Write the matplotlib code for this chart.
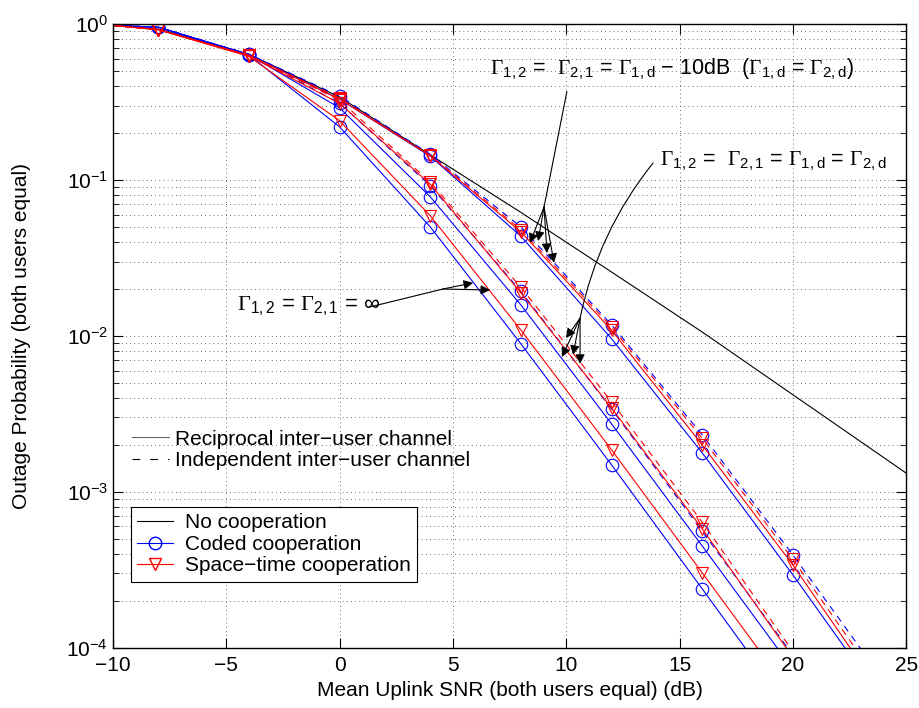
import numpy as np
import matplotlib
matplotlib.use("Agg")
import matplotlib.pyplot as plt
from matplotlib.lines import Line2D
from matplotlib.ticker import LogLocator, NullFormatter

plt.rcParams["font.family"] = ["Liberation Sans", "DejaVu Sans"]
plt.rcParams["mathtext.fontset"] = "custom"
plt.rcParams["mathtext.rm"] = "Liberation Sans"
plt.rcParams["mathtext.it"] = "Liberation Sans:italic"
plt.rcParams["mathtext.sf"] = "Liberation Serif"

# ---------------------------------------------------------
# Data
# ---------------------------------------------------------
snr = [-10, -8, -4, 0, 4, 8, 12, 16, 20, 24]
snr_nc = [-10, -8, -4, 0, 4, 8, 12, 16, 20, 25]

no_coop = [0.98, 0.93, 0.64, 0.34, 0.145, 0.062, 0.0257, 0.0106, 0.0042, 0.00132]

# Gamma_12 = Gamma_21 = inf
cc_inf = [0.98, 0.955, 0.633, 0.219, 0.050, 0.0089, 0.00149, 2.39e-4, 3.8e-5, 6e-6]
st_inf = [0.98, 0.92, 0.62, 0.240, 0.059, 0.0109, 0.00186, 3.03e-4, 4.9e-5, 8e-6]

# Gamma_12 = Gamma_21 = Gamma_1d = Gamma_2d
cc_eq_rec = [0.98, 0.955, 0.635, 0.29, 0.078, 0.0158, 0.00273, 4.5e-4, 7.3e-5, 1.2e-5]
cc_eq_ind = [0.98, 0.955, 0.638, 0.31, 0.092, 0.0193, 0.0034, 5.6e-4, 9.0e-5, 1.5e-5]
st_eq_rec = [0.98, 0.92, 0.625, 0.31, 0.094, 0.0189, 0.00345, 5.8e-4, 8.7e-5, 1.4e-5]
st_eq_ind = [0.98, 0.92, 0.627, 0.325, 0.097, 0.0205, 0.00378, 6.4e-4, 9.5e-5, 1.6e-5]

# Gamma_12 = Gamma_21 = Gamma_1d - 10dB
cc_10_rec = [0.98, 0.955, 0.64, 0.33, 0.142, 0.0436, 0.0096, 0.00178, 2.94e-4, 4.5e-5]
cc_10_ind = [0.98, 0.955, 0.64, 0.345, 0.146, 0.050, 0.0118, 0.00232, 3.95e-4, 6.2e-5]
st_10_rec = [0.98, 0.92, 0.63, 0.33, 0.143, 0.0465, 0.0109, 0.0020, 3.4e-4, 4.9e-5]
st_10_ind = [0.98, 0.92, 0.63, 0.335, 0.144, 0.048, 0.0114, 0.00221, 3.7e-4, 5.5e-5]

# ---------------------------------------------------------
# Figure
# ---------------------------------------------------------
fig = plt.figure(figsize=(9.19, 7.08), dpi=100)
ax = fig.add_axes([0.123, 0.085, 0.863, 0.881])

dash = (0, (6, 5))
ymin = 1e-4


def curve(vals, color, marker, ls="-"):
    # markers only on the sampled points (-8 ... 20 dB) that lie inside the axes
    idx = [i for i in range(1, 9) if vals[i] >= ymin]
    ax.plot(snr, vals, color=color, marker=marker, linestyle=ls, lw=0.8,
            markersize=9, markerfacecolor="none", markeredgewidth=0.8,
            markevery=idx)


ax.plot(snr_nc, no_coop, color="k", lw=0.8)

for vals in [cc_inf, cc_eq_rec, cc_10_rec]:
    curve(vals, "b", "o")
for vals in [cc_eq_ind, cc_10_ind]:
    curve(vals, "b", "o", dash)
for vals in [st_inf, st_eq_rec, st_10_rec]:
    curve(vals, "r", "v")
for vals in [st_eq_ind, st_10_ind]:
    curve(vals, "r", "v", dash)

ax.set_yscale("log")
ax.set_xlim(-10, 25)
ax.set_ylim(ymin, 1)
ax.set_xticks(np.arange(-10, 26, 5))
ax.set_xticklabels([str(v).replace("-", "\u2212") for v in range(-10, 26, 5)])
ax.yaxis.set_major_locator(LogLocator(base=10, numticks=10))
ax.yaxis.set_minor_locator(LogLocator(base=10, subs=np.arange(2, 10), numticks=10))
ax.yaxis.set_minor_formatter(NullFormatter())

ax.tick_params(which="both", direction="in", top=True, right=True, labelsize=15)
ax.tick_params(axis="x", pad=6)
ax.tick_params(which="major", length=7, width=0.8)
ax.tick_params(which="minor", length=4, width=0.6)
for s in ax.spines.values():
    s.set_linewidth(1.0)

grid_kw = dict(color="0.25", linestyle=(0, (1, 4)), lw=0.6)
ax.grid(True, which="major", **grid_kw)
ax.yaxis.grid(True, which="minor", **grid_kw)
ax.set_axisbelow(True)

ax.set_xlabel("Mean Uplink SNR (both users equal) (dB)", fontsize=15, labelpad=4)
ax.set_ylabel("Outage Probability (both users equal)", fontsize=15)
ax.yaxis.set_label_coords(-0.104, 0.5)

# ---------------------------------------------------------
# Annotations
# ---------------------------------------------------------
G = r"\mathsf{\Gamma}"
ax.text(-4.53, 0.0155, rf"${G}_{{1,2}}$ = ${G}_{{2,1}}$ = $\infty$",
        fontsize=16, va="center", ha="left")
ax.text(6.64, 0.51,
        rf"${G}_{{1,2}}$ =  ${G}_{{2,1}}$ = ${G}_{{\mathrm{{1,d}}}}$ $-$ 10dB  "
        rf"(${G}_{{\mathrm{{1,d}}}}$ = ${G}_{{\mathrm{{2,d}}}}$)",
        fontsize=15.5, va="center", ha="left")
ax.text(14.14, 0.131,
        rf"${G}_{{1,2}}$ =  ${G}_{{2,1}}$ = ${G}_{{\mathrm{{1,d}}}}$ = ${G}_{{\mathrm{{2,d}}}}$",
        fontsize=15.5, va="center", ha="left")

arrow_kw = dict(arrowstyle="-|>", color="k", lw=0.8, mutation_scale=14,
                shrinkA=0, shrinkB=0)
line_kw = dict(arrowstyle="-", color="k", lw=0.8, shrinkA=0, shrinkB=0)

# Gamma = inf
ax.annotate("", xy=(4.56, 0.020), xytext=(1.3, 0.0153), arrowprops=line_kw)
for tx, ty in [(5.89, 0.0219), (6.64, 0.0197)]:
    ax.annotate("", xy=(tx, ty), xytext=(4.56, 0.020), arrowprops=arrow_kw)

# Gamma = Gamma_d - 10 dB
ax.annotate("", xy=(9.02, 0.0671), xytext=(10.03, 0.37), arrowprops=line_kw)
for tx, ty in [(8.40, 0.0395), (8.76, 0.0406), (9.15, 0.034), (9.46, 0.0294)]:
    ax.annotate("", xy=(tx, ty), xytext=(9.02, 0.0671), arrowprops=arrow_kw)

# Gamma = Gamma_d
ax.annotate("", xy=(10.61, 0.0130), xytext=(13.83, 0.1285),
            arrowprops=dict(line_kw, connectionstyle="arc3,rad=0.12"))
for tx, ty in [(9.99, 0.0097), (9.81, 0.00733), (10.30, 0.00756), (10.61, 0.00662)]:
    ax.annotate("", xy=(tx, ty), xytext=(10.61, 0.0130), arrowprops=arrow_kw)

# ---------------------------------------------------------
# Legends
# ---------------------------------------------------------
h1 = [Line2D([], [], color="k", lw=0.8),
      Line2D([], [], color="b", lw=0.8, marker="o", markersize=9, markerfacecolor="none"),
      Line2D([], [], color="r", lw=0.8, marker="v", markersize=9, markerfacecolor="none")]
leg1 = ax.legend(h1, ["No cooperation", "Coded cooperation", "Space\u2212time cooperation"],
                 loc="lower left", bbox_to_anchor=(0.0227, 0.106), borderaxespad=0,
                 fontsize=15, fancybox=False, framealpha=1, edgecolor="k",
                 handlelength=1.7, handletextpad=0.6, labelspacing=0.12,
                 borderpad=0.3)
leg1.get_frame().set_linewidth(0.8)
ax.add_artist(leg1)

h2 = [Line2D([], [], color="0.4", lw=0.8),
      Line2D([], [], color="k", lw=0.8, linestyle=(0, (7, 9)))]
ax.legend(h2, ["Reciprocal inter\u2212user channel", "Independent inter\u2212user channel"],
          loc="lower left", bbox_to_anchor=(0.0139, 0.272), borderaxespad=0,
          fontsize=15, frameon=False, handlelength=1.75, handletextpad=0.3,
          labelspacing=0.1, borderpad=0.4)

fig.savefig("out.png", dpi=100)
